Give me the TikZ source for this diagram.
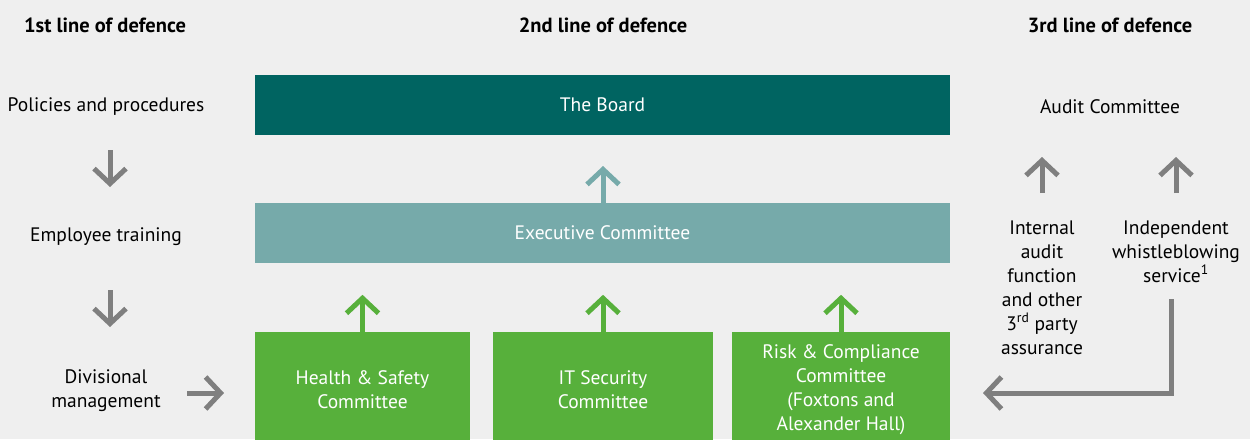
\documentclass[tikz,border=0pt]{standalone}
\usepackage{fontspec}
\setmainfont{PT Sans}
\usetikzlibrary{arrows.meta}

\definecolor{boardteal}{HTML}{006461}
\definecolor{execteal}{HTML}{76AAAA}
\definecolor{cmtgreen}{HTML}{57B03B}
\definecolor{arrowgrey}{HTML}{7F7F7F}
\definecolor{bggrey}{HTML}{EFEFEF}

\tikzset{
  flow/.style={line width=5pt,-{Straight Barb[length=15pt,width=32pt,line width=5pt]}},
  panel/.style={rectangle,inner sep=0pt,text=white,align=center}
}

\begin{document}
\begin{tikzpicture}[x=1pt,y=-1pt,font=\fontsize{19.5}{24}\selectfont]

      \useasboundingbox[fill=bggrey] (0,0) rectangle (1250,439);

      % headings
      \begin{scope}[every node/.style={font=\fontsize{20.5}{24}\selectfont\bfseries}]
        \node (h1) at (105,25)  {1st line of defence};
        \node (h2) at (603,25)  {2nd line of defence};
        \node (h3) at (1110,25) {3rd line of defence};
      \end{scope}

      % first line
      \begin{scope}[every node/.style={align=center}]
        \node (pol)  at (106,107) {Policies and procedures};
        \node (trn)  at (106,237) {Employee training};
        \node (div)  at (106,391) {Divisional\\management};
      \end{scope}

      % second line
      \node[panel,fill=boardteal,minimum width=695pt,minimum height=60pt] (board) at (602.5,105) {The Board};
      \node[panel,fill=execteal,minimum width=695pt,minimum height=60pt] (exec) at (602.5,233) {Executive Committee};
      \begin{scope}[every node/.style={panel,fill=cmtgreen,minimum height=116pt}]
        \node[minimum width=215pt] (hs)   at (362.5,390) {Health \& Safety\\Committee};
        \node[minimum width=220pt] (it)   at (603,390)   {IT Security\\Committee};
        \node[minimum width=218pt] (risk) at (841,390)   {Risk \& Compliance\\Committee\\(Foxtons and\\Alexander Hall)};
      \end{scope}

      % third line
      \begin{scope}[every node/.style={align=center}]
        \node (audit) at (1110,107) {Audit Committee};
        \node[anchor=north] (int)  at (1042,217) {Internal\\audit\\function\\and other\\3\textsuperscript{rd} party\\assurance};
        \node[anchor=north] (ind)  at (1176,217) {Independent\\whistleblowing\\service\textsuperscript{1}};
      \end{scope}

      % arrow ends
      \coordinate (a1) at (110,150);  \coordinate (b1) at (110,187);
      \coordinate (a2) at (110,290);  \coordinate (b2) at (110,327);
      \coordinate (a3) at (187,393);  \coordinate (b3) at (224,393);
      \coordinate (a4) at (603,203);  \coordinate (b4) at (603,166);
      \coordinate (a5) at (1042,193); \coordinate (b5) at (1042,157);
      \coordinate (a6) at (1176,193); \coordinate (b6) at (1176,157);
      \coordinate (a7) at (1171,299); \coordinate (b7) at (983,393);

      \begin{scope}[every edge/.style={draw,flow,arrowgrey}]
        \path (a1) edge (b1);
        \path (a2) edge (b2);
        \path (a3) edge (b3);
        \path (a5) edge (b5);
        \path (a6) edge (b6);
      \end{scope}
      \draw[flow,arrowgrey] (a7) |- (b7);

      \draw[flow,execteal] (a4) -- (b4);

      \begin{scope}[every edge/.style={draw,flow,cmtgreen}]
        \path (hs.north)   edge ++(0,-37);
        \path (it.north)   edge ++(0,-37);
        \path (risk.north) edge ++(0,-37);
      \end{scope}

    \end{tikzpicture}
\end{document}
